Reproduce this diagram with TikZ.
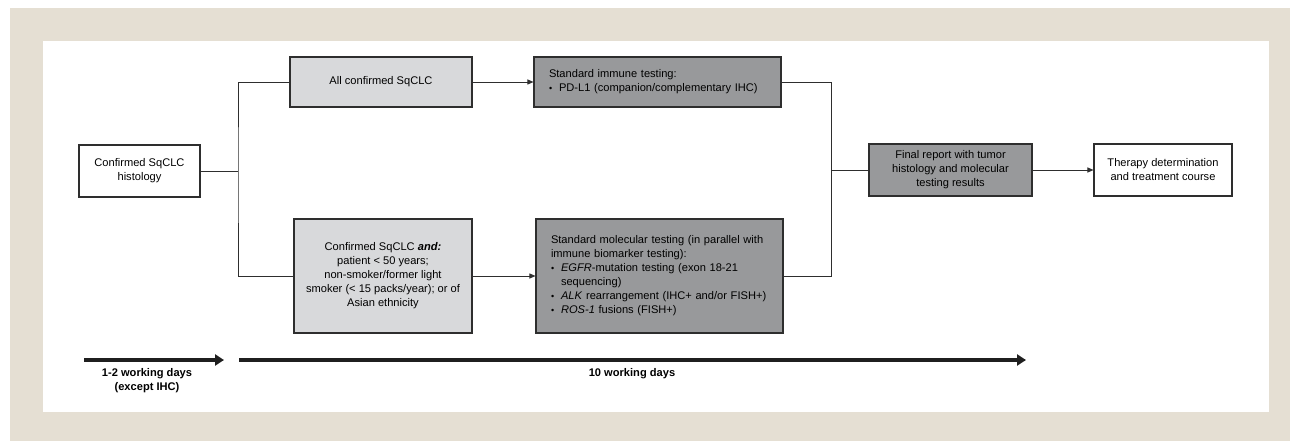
\documentclass[tikz,border=0pt]{standalone}
\usepackage{fontspec}
\setmainfont{Liberation Sans}
\usetikzlibrary{arrows.meta}
\definecolor{panelbeige}{HTML}{E5DFD3}
\definecolor{lightbox}{HTML}{D8D9DB}
\definecolor{darkbox}{HTML}{98999B}
\definecolor{edgegray}{HTML}{2E2E2E}

\begin{document}
\begin{tikzpicture}[x=1pt,y=-1pt,
  box/.style={draw=edgegray,line width=1.1pt,inner sep=0pt,
    font=\fontsize{11.1}{14}\selectfont,align=center},
  listbox/.style={box,fill=darkbox,align=left,text width=227pt,
    inner xsep=10pt,inner ysep=0pt},
  link/.style={draw=edgegray,line width=0.9pt},
  tip/.style={link,-{Triangle[length=6pt,width=5pt]}},
  span/.style={line width=4pt,draw=black!88,-{Triangle[length=9pt,width=11pt]}},
  dayslabel/.style={font=\bfseries\fontsize{11.1}{14}\selectfont,align=center}]
\useasboundingbox (0,0) rectangle (1290,441);
\fill[panelbeige] (10,8) rectangle (1290,441);
\fill[white] (43,41) rectangle (1269,412);

\node[box,minimum width=121pt,minimum height=52pt] (hist) at (139.5,171)
  {Confirmed SqCLC\\histology};
\node[box,fill=lightbox,minimum width=182pt,minimum height=50pt] (allc) at (381,82)
  {All confirmed SqCLC};
\node[box,fill=lightbox,minimum width=178pt,minimum height=114pt] (crit) at (383,276)
  {Confirmed SqCLC \textbf{\textit{and:}}\\patient < 50 years;\\non-smoker/former light\\
   smoker (< 15 packs/year); or of\\Asian ethnicity};
\node[listbox,minimum height=50pt] (immune) at (657.5,82)
  {\hspace*{5pt}Standard immune testing:\\
   \hspace*{5pt}\makebox[10pt][l]{\small\textbullet}PD-L1 (companion/complementary IHC)};
\node[listbox,minimum height=114pt] (molec) at (659.5,276)
  {\hspace*{5pt}Standard molecular testing (in parallel with\\
   \hspace*{5pt}immune biomarker testing):\\
   \hspace*{5pt}\makebox[10pt][l]{\small\textbullet}\textit{EGFR}-mutation testing (exon 18-21\\
   \hspace*{15pt}sequencing)\\
   \hspace*{5pt}\makebox[10pt][l]{\small\textbullet}\textit{ALK} rearrangement (IHC+ and/or FISH+)\\
   \hspace*{5pt}\makebox[10pt][l]{\small\textbullet}\textit{ROS-1} fusions (FISH+)};
\node[box,fill=darkbox,minimum width=163pt,minimum height=52pt] (final) at (950.5,170)
  {Final report with tumor\\histology and molecular\\testing results};
\node[box,minimum width=138pt,minimum height=52pt] (ther) at (1163,170)
  {Therapy determination\\and treatment course};

\coordinate (split) at (238,171);
\coordinate (join) at (831,170);
\draw[link] (hist.east) -- (split);
\draw[link] (allc.west) -| (split) |- (crit.west);
\draw[tip] (allc) -- (immune);
\draw[tip] (crit) -- (molec);
\draw[link] (immune.east) -| (join) |- (molec.east);
\draw[link] (join) -- (final.west);
\draw[tip] (final) -- (ther);

\coordinate (d1a) at (84,360);
\coordinate (d1b) at (224,360);
\coordinate (d2a) at (239,360);
\coordinate (d2b) at (1026,360);
\draw[span] (d1a) -- (d1b);
\draw[span] (d2a) -- (d2b);
\node[dayslabel] (d1text) at (147,381) {1-2 working days\\(except IHC)};
\node[dayslabel] (d2text) at (632,374) {10 working days};
\end{tikzpicture}
\end{document}
